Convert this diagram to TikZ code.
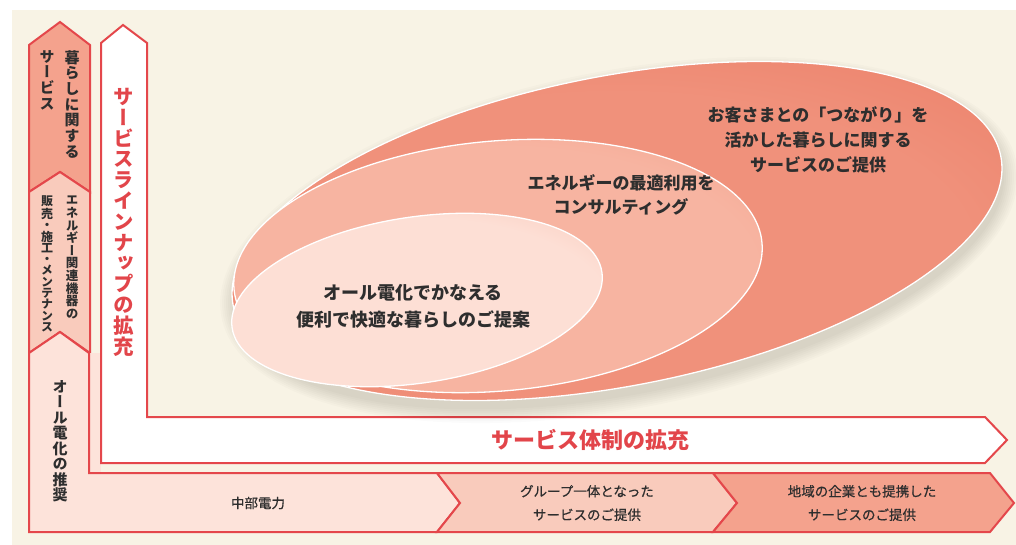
\documentclass[tikz,border=0pt]{standalone}
\usepackage{fontspec}
\newfontfamily\jp{Noto Sans CJK JP}
\newfontfamily\jpm{Noto Sans CJK JP}[FakeBold=0.6]
\newfontfamily\jpv{Noto Sans CJK JP}[RawFeature=+vert]
\definecolor{bgc}{HTML}{F8F3E5}
\definecolor{redl}{HTML}{E4474B}
\definecolor{redt}{HTML}{E2454A}
\definecolor{pkA}{HTML}{FDE3DA}
\definecolor{pkB}{HTML}{F9CBBC}
\definecolor{pkC}{HTML}{F4A28D}
\definecolor{txt}{HTML}{2E2E2E}
\definecolor{eOa}{HTML}{F0917B}
\definecolor{eOb}{HTML}{E8765F}
\definecolor{eMa}{HTML}{F7B4A1}
\definecolor{eMb}{HTML}{F0967F}
\definecolor{eIa}{HTML}{FDDFD5}
\definecolor{eIb}{HTML}{F7BAA9}
\pgfdeclareradialshading{shO}{\pgfpoint{0bp}{0bp}}{color(0bp)=(eOa); color(22bp)=(eOa); color(46bp)=(eOb); color(50bp)=(eOb)}
\pgfdeclareradialshading{shM}{\pgfpoint{0bp}{0bp}}{color(0bp)=(eMa); color(24bp)=(eMa); color(47bp)=(eMb); color(50bp)=(eMb)}
\pgfdeclareradialshading{shI}{\pgfpoint{0bp}{0bp}}{color(0bp)=(eIa); color(25bp)=(eIa); color(47bp)=(eIb); color(50bp)=(eIb)}
\tikzset{
  band/.style={draw=redl, line width=2pt, line join=miter},
  oval/.style={draw=white, line width=1.3pt},
  vtext/.style={align=center, inner sep=0pt, anchor=north},
  htext/.style={align=center, inner sep=0pt, text=txt},
}
\begin{document}
\begin{tikzpicture}[x=1pt, y=-1pt]
\useasboundingbox (0,0) rectangle (1016,545);
\fill[white] (0,0) rectangle (1016,545);
\fill[bgc] (12,10) rectangle (1016,545);

% left column
\path[band, fill=pkC] (29,45) -- (60,22) -- (90,45) -- (90,192) -- (60,172) -- (29,192) -- cycle;
\path[band, fill=pkB] (29,192) -- (60,172) -- (90,192) -- (90,353) -- (60,332) -- (29,353) -- cycle;
\fill[pkA] (89,353) rectangle (101,473);
\path[band, fill=pkA] (29,353) -- (60,332) -- (89,353) -- (89,473) -- (437,473) -- (460,503) -- (437,532) -- (29,532) -- cycle;
\path[band, fill=pkB] (437,473) -- (713,473) -- (737,503) -- (713,532) -- (437,532) -- (460,503) -- cycle;
\path[band, fill=pkC] (713,473) -- (990,473) -- (1014,503) -- (990,532) -- (713,532) -- (737,503) -- cycle;

% white L arrow
\path[band, fill=white] (101,43) -- (123,25) -- (147,43) -- (147,417) -- (985,417) -- (1007,440) -- (985,463) -- (101,463) -- cycle;

% shadow
\foreach \i in {1,...,8}
  \fill[black, opacity=0.014, rotate around={11:(619,240)}] (619,240) ellipse [x radius={389+2*\i}, y radius={153+2*\i}];

% ellipses
\path[oval, shading=shO, rotate around={11:(617,231)}] (617,231) ellipse [x radius=391, y radius=155];
\path[oval, shading=shM, rotate around={5:(498,266)}] (498,266) ellipse [x radius=265, y radius=125];
\path[oval, shading=shI, rotate around={8.6:(417,300)}] (417,300) ellipse [x radius=187, y radius=83];

% ellipse texts
\node[htext, font=\jp\bfseries\fontsize{17}{25}\selectfont] (tout) at (818,140) {お客さまとの「つながり」を\\活かした暮らしに関する\\サービスのご提供};
\node[htext, font=\jp\bfseries\fontsize{17}{23.5}\selectfont] (tmid) at (621,195) {エネルギーの最適利用を\\コンサルティング};
\node[htext, font=\jp\bfseries\fontsize{18}{27}\selectfont] (tin) at (413,306) {オール電化でかなえる\\便利で快適な暮らしのご提案};

% red texts
\node[vtext, text=redt, font=\jpv\bfseries\fontsize{20.5}{20.8}\selectfont] (lineup) at (124,88) {サ\\ー\\ビ\\ス\\ラ\\イ\\ン\\ナ\\ッ\\プ\\の\\拡\\充};
\node[htext, text=redt, font=\jp\bfseries\fontsize{22}{25}\selectfont] (taisei) at (590,440) {サービス体制の拡充};

% column texts
\node[vtext, text=txt, font=\jpv\bfseries\fontsize{15}{15.7}\selectfont] (kur1) at (72,50) {暮\\ら\\し\\に\\関\\す\\る};
\node[vtext, text=txt, font=\jpv\bfseries\fontsize{15}{15.7}\selectfont] (kur2) at (47,50) {サ\\ー\\ビ\\ス};
\node[vtext, text=txt, font=\jpv\bfseries\fontsize{12.5}{12.6}\selectfont] (ene1) at (72,196) {エ\\ネ\\ル\\ギ\\ー\\関\\連\\機\\器\\の};
\node[vtext, text=txt, font=\jpv\bfseries\fontsize{12}{11.3}\selectfont] (ene2) at (47,196) {販\\売\\・\\施\\工\\・\\メ\\ン\\テ\\ナ\\ン\\ス};
\node[vtext, text=txt, font=\jpv\bfseries\fontsize{15}{15.5}\selectfont] (ohden) at (60,380) {オ\\ー\\ル\\電\\化\\の\\推\\奨};

% bottom bar texts
\node[htext, font=\jpm\fontsize{13.5}{23.5}\selectfont] (chubu) at (258,503) {中部電力};
\node[htext, font=\jpm\fontsize{13.5}{23.5}\selectfont] (group) at (587,503) {グループ一体となった\\サービスのご提供};
\node[htext, font=\jpm\fontsize{13.5}{23.5}\selectfont] (chiiki) at (862,503) {地域の企業とも提携した\\サービスのご提供};
\end{tikzpicture}
\end{document}
